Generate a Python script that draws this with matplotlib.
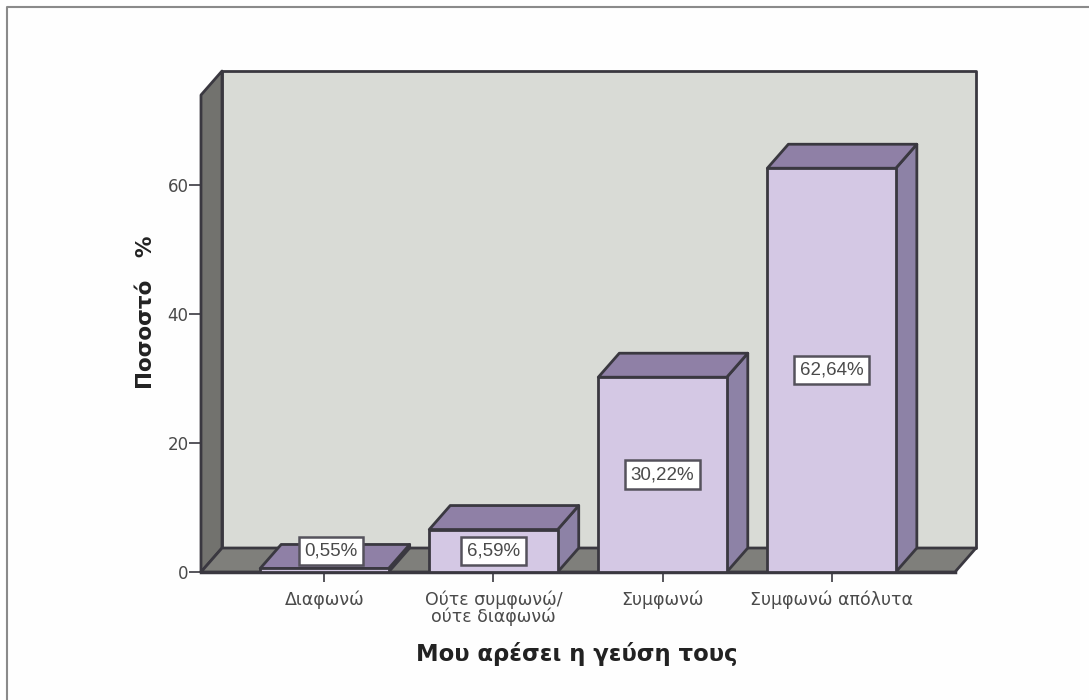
"""Percent bar chart with a fake 3D look, drawn with plain polygons."""
import matplotlib
matplotlib.use("Agg")
import matplotlib.pyplot as plt
from matplotlib.patches import Polygon

plt.rcParams["font.family"] = ["DejaVu Sans"]

categories = ["Διαφωνώ", "Ούτε συμφωνώ/\nούτε διαφωνώ", "Συμφωνώ", "Συμφωνώ απόλυτα"]
values = [0.55, 6.59, 30.22, 62.64]
value_labels = ["0,55%", "6,59%", "30,22%", "62,64%"]
y_ticks = [0, 20, 40, 60]

W, H = 1089, 700
EDGE = "#3a3840"
TEXT = "#4a4a4a"
BAR_W = 0.76
DX = 21 / 169  # depth of the fake 3D, in axis units
DY = 24 / 6.45
XMIN, XMAX, YMAX = -0.73, 3.73, 74


def poly(ax, pts, color, z, lw=2.0):
    ax.add_patch(Polygon(pts, closed=True, facecolor=color, edgecolor=EDGE,
                         lw=lw, zorder=z, clip_on=False, joinstyle="round"))


def draw_box(ax, x, v, z):
    x0, x1 = x - BAR_W / 2, x + BAR_W / 2
    poly(ax, [(x1, 0), (x1 + DX, DY), (x1 + DX, v + DY), (x1, v)], "#8d82a6", z)
    poly(ax, [(x0, v), (x0 + DX, v + DY), (x1 + DX, v + DY), (x1, v)], "#8f80a6", z)
    poly(ax, [(x0, 0), (x1, 0), (x1, v), (x0, v)], "#d4c8e4", z)


fig = plt.figure(figsize=(W / 100, H / 100), dpi=100, facecolor="#fefefe")

ax = fig.add_axes([201 / W, (H - 572) / H, 754 / W, 477 / H])
ax.set_xlim(XMIN, XMAX)
ax.set_ylim(0, YMAX)
ax.patch.set_visible(False)
for s in ["top", "right", "left"]:
    ax.spines[s].set_visible(False)
ax.spines["bottom"].set_color(EDGE)
ax.spines["bottom"].set_linewidth(2.5)
ax.spines["bottom"].set_zorder(1)

# walls and floor
poly(ax, [(XMIN + DX, DY), (XMAX + DX, DY), (XMAX + DX, YMAX + DY), (XMIN + DX, YMAX + DY)],
     "#d9dbd6", 1)
poly(ax, [(XMIN, 0), (XMIN + DX, DY), (XMIN + DX, YMAX + DY), (XMIN, YMAX)], "#72726e", 1.1)
poly(ax, [(XMIN, 0), (XMAX, 0), (XMAX + DX, DY), (XMIN + DX, DY)], "#7f7f7b", 1.2)

for i, v in enumerate(values):
    draw_box(ax, i, v, 2 + i)

for i, (v, lab) in enumerate(zip(values, value_labels)):
    # the smallest bar is too flat to hold its label, it sits higher up
    y = v / 2 if v > 1 else 3.2
    xoff = 0.04 if v <= 1 else 0
    ax.text(i + xoff, y, lab, ha="center", va="center", fontsize=13.5, color=TEXT, zorder=10,
            family="Liberation Sans",
            bbox=dict(boxstyle="square,pad=0.3", facecolor="white", edgecolor="#55525c", lw=1.8))

ax.set_xticks(range(len(categories)))
ax.set_xticklabels(categories, fontsize=12.5, color=TEXT, linespacing=0.95)
ax.set_yticks(y_ticks)
ax.set_yticklabels([str(t) for t in y_ticks], fontsize=12, color=TEXT)
ax.tick_params(axis="x", length=7, width=1.2, color=EDGE, pad=6)
ax.tick_params(axis="y", length=9, width=1.2, color=EDGE, pad=0)

fig.text(577 / W, (H - 654) / H, "Μου αρέσει η γεύση τους", ha="center", va="center",
         fontsize=16.4, fontweight="bold", color="#222222")
fig.text(146 / W, (H - 312) / H, "Ποσοστό   %", rotation=90, ha="center", va="center",
         fontsize=15.5, fontweight="bold", color="#222222")

# only the top and left edge of the outer frame show in the scan
fig.add_artist(plt.Line2D([7 / W, 7 / W, 1089 / W], [0, (H - 7) / H, (H - 7) / H],
                          color="#8a8a8a", lw=1.5))

fig.savefig("out.png", dpi=100)
